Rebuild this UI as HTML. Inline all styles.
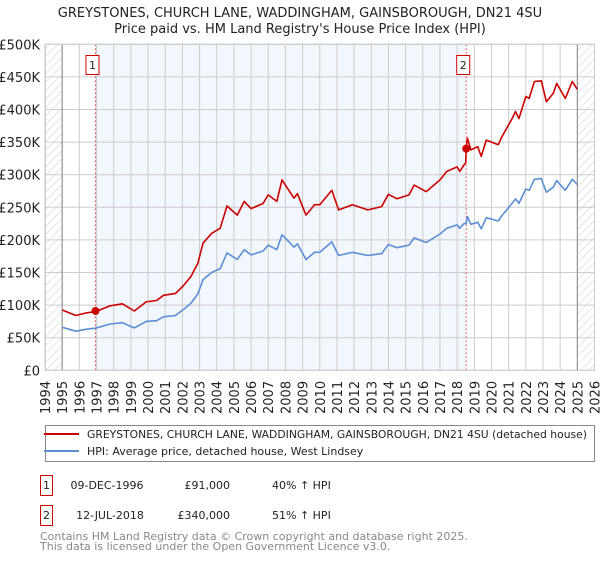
<!DOCTYPE html>
<html><head><meta charset="utf-8"><style>
body{margin:0;background:#fff;font-family:"DejaVu Sans","Liberation Sans",sans-serif;}
svg text{font-family:"DejaVu Sans","Liberation Sans",sans-serif;}
</style></head><body>
<svg id="c" width="600" height="560" xmlns="http://www.w3.org/2000/svg">
<defs><pattern id="hatch" width="6" height="6" patternUnits="userSpaceOnUse" patternTransform="rotate(45)"><line x1="0" y1="0" x2="0" y2="6" stroke="#ccc" stroke-width="1"/></pattern></defs>
<text x="300" y="17" text-anchor="middle" font-size="13" fill="#222">GREYSTONES, CHURCH LANE, WADDINGHAM, GAINSBOROUGH, DN21 4SU</text>
<text x="300" y="33" text-anchor="middle" font-size="13" fill="#222">Price paid vs. HM Land Registry's House Price Index (HPI)</text>
<g id="plot"></g>
<g>
<rect x="45.5" y="425.5" width="549" height="36" fill="#fff" stroke="#888"/>
<line x1="44" y1="434" x2="79" y2="434" stroke="#cc0000" stroke-width="2"/>
<text x="87" y="438" font-size="11" fill="#222" textLength="500" lengthAdjust="spacingAndGlyphs">GREYSTONES, CHURCH LANE, WADDINGHAM, GAINSBOROUGH, DN21 4SU (detached house)</text>
<line x1="44" y1="451" x2="79" y2="451" stroke="#5b8fd4" stroke-width="2"/>
<text x="87" y="455" font-size="11" fill="#222">HPI: Average price, detached house, West Lindsey</text>
</g>
<g font-size="11" fill="#222">
<rect x="40.5" y="475.5" width="12" height="20" fill="#fff" stroke="#cc0000"/>
<text x="46.5" y="489" text-anchor="middle">1</text>
<text x="107" y="489" text-anchor="middle">09-DEC-1996</text>
<text x="230" y="489" text-anchor="end">£91,000</text>
<text x="272" y="489">40% ↑ HPI</text>
<rect x="40.5" y="505.5" width="12" height="20" fill="#fff" stroke="#cc0000"/>
<text x="46.5" y="519" text-anchor="middle">2</text>
<text x="110" y="519" text-anchor="middle">12-JUL-2018</text>
<text x="230" y="519" text-anchor="end">£340,000</text>
<text x="272" y="519">51% ↑ HPI</text>
</g>
<text x="40" y="540" font-size="11" fill="#888">Contains HM Land Registry data © Crown copyright and database right 2025.</text>
<text x="40" y="550" font-size="11" fill="#888">This data is licensed under the Open Government Licence v3.0.</text>
</svg>
<script>
const redYears=[1995.0,1995.8,1996.4,1996.94,1997.8,1998.5,1999.2,1999.9,2000.5,2000.9,2001.6,2002.1,2002.5,2002.9,2003.2,2003.7,2004.2,2004.6,2005.2,2005.6,2006.0,2006.7,2007.0,2007.5,2007.8,2008.5,2008.7,2009.2,2009.7,2010.0,2010.7,2011.1,2011.9,2012.8,2013.6,2014.0,2014.5,2015.2,2015.5,2016.2,2017.0,2017.4,2018.0,2018.15,2018.4,2018.5,2018.53,2018.6,2018.8,2019.2,2019.4,2019.7,2020.4,2020.6,2021.2,2021.4,2021.6,2022.0,2022.2,2022.5,2022.9,2023.2,2023.6,2023.8,2024.3,2024.7,2025.0];
const redValues=[92.5,84,88,90,99,102,91,105,107,115,118,131,144,164,195,210,218,252,238,259,248,256,269,259,292,264,271,238,254,254,276,246,254,246,251,270,263,269,284,274,292,305,312,305,315,318,340,356,338,343,328,353,346,358,386,397,386,420,417,443,444,412,425,440,417,443,431];
const hpiYears=[1995.0,1995.8,1996.4,1996.94,1997.8,1998.5,1999.2,1999.9,2000.5,2000.9,2001.6,2002.1,2002.5,2002.9,2003.2,2003.7,2004.2,2004.6,2005.2,2005.6,2006.0,2006.7,2007.0,2007.5,2007.8,2008.5,2008.7,2009.2,2009.7,2010.0,2010.7,2011.1,2011.9,2012.8,2013.6,2014.0,2014.5,2015.2,2015.5,2016.2,2017.0,2017.4,2018.0,2018.15,2018.4,2018.53,2018.6,2018.8,2019.2,2019.4,2019.7,2020.4,2020.6,2021.2,2021.4,2021.6,2022.0,2022.2,2022.5,2022.9,2023.2,2023.6,2023.8,2024.3,2024.7,2025.0];
const hpiValues=[66,60,63,64.5,71,73,65,75,76,82,84,94,103,117,139,150,156,180,170,185,177,183,192,185,208,189,194,170,181,181,197,176,181,176,179,193,188,192,203,196,209,218,223,218,225,225,236,224,227,217,234,229,237,256,263,256,278,276,293,294,273,281,291,276,293,285];
const saleYears=[1996.94,2018.53];
const saleValues=[91,340];
const saleLabels=["1","2"];
const yTicks=[0,50,100,150,200,250,300,350,400,450,500];
const yTickLabels=["£0","£50K","£100K","£150K","£200K","£250K","£300K","£350K","£400K","£450K","£500K"];
const xTicks=[1994,1995,1996,1997,1998,1999,2000,2001,2002,2003,2004,2005,2006,2007,2008,2009,2010,2011,2012,2013,2014,2015,2016,2017,2018,2019,2020,2021,2022,2023,2024,2025,2026];

const L=45,R=594.5,T=44.3,B=370.3,NS='http://www.w3.org/2000/svg';
const X=y=>L+(y-1994)*(R-L)/32;
const Y=v=>B-v*(B-T)/500;
const g=document.getElementById('plot');
function el(t,a){const e=document.createElementNS(NS,t);for(const k in a)e.setAttribute(k,a[k]);g.appendChild(e);return e;}
let e;
e=el('rect',{x:X(saleYears[0]),y:T,width:X(saleYears[1])-X(saleYears[0]),height:B-T,fill:'#f2f6fd'});


e=el('rect',{x:L,y:T,width:X(1995)-L,height:B-T,fill:'url(#hatch)'});


e=el('rect',{x:X(2025),y:T,width:R-X(2025),height:B-T,fill:'url(#hatch)'});


yTicks.forEach((v,i)=>{
 e=el('line',{x1:L,x2:R,y1:Y(v),y2:Y(v),stroke:'#ccc','stroke-width':1});
 
 
 e=el('text',{x:40,y:Y(v)+5,'text-anchor':'end','font-size':13,fill:'#222'});
 e.textContent=yTickLabels[i];
 
 
});
xTicks.forEach(yr=>{
 e=el('line',{x1:X(yr),x2:X(yr),y1:T,y2:B,stroke:'#ccc','stroke-width':1});
 
 
 const x=X(yr)+5;
 e=el('text',{x:x,y:414,'font-size':13,fill:'#222',transform:`rotate(-90 ${x} 414)`});
 e.textContent=yr;
 
 
});
[1995,2025].forEach(yr=>{
 e=el('line',{x1:X(yr),x2:X(yr),y1:T,y2:B,stroke:'#888','stroke-width':1});
 
 
});
saleYears.forEach((yr,i)=>{
 e=el('line',{x1:X(yr),x2:X(yr),y1:T,y2:B,stroke:'#e06060','stroke-width':1,'stroke-dasharray':'2,2'});
 
 
});
function pts(xs,vs){return xs.map((x,i)=>X(x).toFixed(1)+','+Y(vs[i]).toFixed(1)).join(' ');}
e=el('polyline',{points:pts(hpiYears,hpiValues),fill:'none',stroke:'#5b8fd4','stroke-width':1.6,'stroke-linejoin':'round'});


e=el('polyline',{points:pts(redYears,redValues),fill:'none',stroke:'#cc0000','stroke-width':1.6,'stroke-linejoin':'round'});


saleYears.forEach((yr,i)=>{
 e=el('circle',{cx:X(yr),cy:Y(saleValues[i]),r:4,fill:'#cc0000'});
 
 
 const bx=X(yr)-10;
 e=el('rect',{x:bx+0.5,y:55.5,width:13,height:19,fill:'#fff',stroke:'#cc0000'});
 
 
 e=el('text',{x:bx+7,y:69,'text-anchor':'middle','font-size':11,fill:'#222'});
 e.textContent=saleLabels[i];
 
 
});
e=el('rect',{x:L+0.5,y:T,width:R-L-0.5,height:B-T,fill:'none',stroke:'#ccc'});


</script>
</body></html>
